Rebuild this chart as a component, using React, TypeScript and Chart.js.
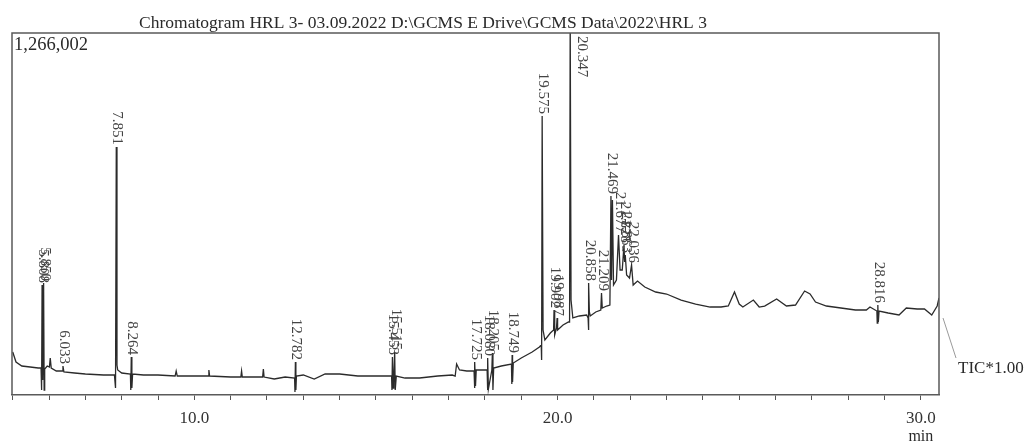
import React, { useEffect, useRef } from "react";
import { Chart, registerables } from "chart.js";

Chart.register(...registerables);

const titleText = "Chromatogram HRL 3- 03.09.2022 D:\\GCMS E Drive\\GCMS Data\\2022\\HRL 3";
const yMaxLabel = "1,266,002";
const traceName = "TIC*1.00";
const xUnit = "min";
const Y_MAX = 1266002;
const X_MIN = 4.98;
const X_MAX = 30.5;
const xTickLabels = [10, 20, 30];

const retentionTimes = [
  5.0, 5.09, 5.25, 5.48, 5.7, 5.78, 5.795, 5.808, 5.825, 5.85, 5.865, 5.88, 5.95,
  6.01, 6.033, 6.06, 6.2, 6.36, 6.383, 6.41, 6.7, 7.0, 7.5, 7.8, 7.83, 7.851, 7.87, 7.89,
  8.0, 8.24, 8.25, 8.264, 8.28, 8.3, 8.6, 9.0, 9.47, 9.5, 9.53, 10.0, 10.38, 10.4, 10.42,
  11.0, 11.28, 11.3, 11.32, 11.88, 11.9, 11.92, 12.2, 12.5, 12.76, 12.77, 12.782, 12.795,
  12.81, 13.0, 13.3, 13.6, 14.0, 14.5, 15.0, 15.43, 15.44, 15.453, 15.47, 15.49, 15.515,
  15.53, 15.56, 15.8, 16.2, 16.7, 17.1, 17.18, 17.22, 17.3, 17.5, 17.7, 17.71, 17.725,
  17.74, 17.76, 17.95, 18.06, 18.07, 18.08, 18.095, 18.19, 18.205, 18.22, 18.24, 18.45,
  18.73, 18.74, 18.749, 18.76, 18.78, 19.0, 19.3, 19.5, 19.55, 19.56, 19.575, 19.6, 19.65,
  19.8, 19.89, 19.902, 19.92, 19.97, 19.987, 20.0, 20.15, 20.3, 20.33, 20.347, 20.37,
  20.42, 20.6, 20.8, 20.84, 20.85, 20.858, 20.875, 20.9, 21.05, 21.19, 21.209, 21.23,
  21.35, 21.44, 21.469, 21.485, 21.51, 21.54, 21.62, 21.677, 21.72, 21.78, 21.828, 21.845,
  21.863, 21.9, 21.98, 22.036, 22.08, 22.2, 22.4, 22.7, 23.0, 23.4, 23.8, 24.2, 24.5,
  24.7, 24.87, 25.0, 25.1, 25.39, 25.55, 25.7, 26.03, 26.3, 26.55, 26.8, 26.95, 27.1,
  27.4, 27.8, 28.2, 28.5, 28.6, 28.79, 28.8, 28.816, 28.83, 28.85, 29.1, 29.4, 29.6,
  29.9, 30.1, 30.3, 30.45, 30.5,
];

const intensities = [
  150400, 115400, 101400, 97900, 94400, 94400, 17500, 384700, 52500, 391700, 17500, 90900, 101400,
  97900, 129400, 94400, 83900, 83900, 101400, 80400, 76900, 73400, 69900, 69900, 24500, 867300, 104900, 87400,
  76900, 73400, 17500, 132900, 24500, 73400, 69900, 69900, 66400, 83900, 66400, 66400, 66400, 87400, 66400,
  62900, 62900, 83900, 62900, 62900, 90900, 62900, 56000, 62900, 59400, 10500, 115400, 17500,
  66400, 69900, 56000, 73400, 73400, 66400, 66400, 66400, 17500, 132900, 24500, 59400, 150400,
  17500, 66400, 59400, 59400, 66400, 69900, 66400, 108400, 87400, 83900, 83900, 24500, 115400,
  31500, 87400, 87400, 87400, 17500, 129400, 21000, 87400, 146900, 17500, 94400, 101400,
  108400, 38500, 139900, 45500, 111900, 129400, 150400, 167900, 174900, 122400, 975700, 227300, 192300,
  216800, 227300, 297200, 209800, 234300, 269300, 227300, 244800, 255300, 255300, 1330000, 332200,
  269300, 276300, 279800, 269300, 227300, 391700, 290300, 276300, 290300, 297200, 356700, 304200,
  311200, 314700, 695900, 402200, 681900, 384700, 402200, 559500, 437100, 437100, 524600, 465100,
  489600, 419600, 409100, 454600, 384700, 398700, 377700, 360200, 353200, 332200, 318200, 307700, 307700,
  311200, 360200, 318200, 307700, 332200, 307700, 311200, 335700, 311200, 314700, 363700, 353200, 325200,
  311200, 304200, 297200, 297200, 307700, 293700, 251800, 314700, 255300, 293700, 286800, 279800, 304200,
  300700, 300700, 279800, 311200, 339200,
];

const peakTimes = [
  5.808, 5.85, 6.383, 7.851, 8.264, 12.782, 15.453, 15.515, 17.725, 18.08, 18.205, 18.749,
  19.575, 19.902, 19.987, 20.347, 20.858, 21.209, 21.469, 21.677, 21.828, 21.863, 22.036, 28.816,
];
const peakLabels = [
  "5.808", "5.850", "6.033", "7.851", "8.264", "12.782", "15.453", "15.515", "17.725", "18.080", "18.205", "18.749",
  "19.575", "19.902", "19.987", "20.347", "20.858", "21.209", "21.469", "21.677", "21.828", "21.863", "22.036", "28.816",
];

const SERIF = "'Liberation Serif', 'Times New Roman', serif";

export default function App() {
  const ref = useRef<HTMLCanvasElement>(null);

  useEffect(() => {
    document.body.style.margin = "0";
    const overlay = {
      id: "overlay",
      afterDraw(chart: any) {
        const ctx = chart.ctx as CanvasRenderingContext2D;
        const { left, right, top, bottom } = chart.chartArea;
        const xs = chart.scales.x;
        const ys = chart.scales.y;
        ctx.save();
        // frame
        ctx.strokeStyle = "#5a5a5a";
        ctx.lineWidth = 1.5;
        ctx.beginPath();
        ctx.moveTo(left, bottom);
        ctx.lineTo(left, top);
        ctx.lineTo(right, top);
        ctx.lineTo(right, bottom);
        ctx.stroke();

        // title
        ctx.fillStyle = "#2a2a2a";
        ctx.font = `17.5px ${SERIF}`;
        ctx.textAlign = "center";
        ctx.textBaseline = "alphabetic";
        ctx.fillText(titleText, 423, 28);

        // y max label
        ctx.font = `18.5px ${SERIF}`;
        ctx.textAlign = "left";
        ctx.fillText(yMaxLabel, left + 2, top + 17);

        // unit
        ctx.textAlign = "center";
        ctx.font = `16px ${SERIF}`;
        ctx.fillText(xUnit, xs.getPixelForValue(30), 441);

        // trace name with leader
        const lastY = ys.getPixelForValue(intensities[intensities.length - 1]);
        ctx.strokeStyle = "#9a9a9a";
        ctx.lineWidth = 1;
        ctx.beginPath();
        ctx.moveTo(right + 4, lastY + 20);
        ctx.lineTo(right + 17, lastY + 60);
        ctx.stroke();
        ctx.fillStyle = "#2a2a2a";
        ctx.textAlign = "left";
        ctx.font = `17px ${SERIF}`;
        ctx.fillText(traceName, right + 19, lastY + 75);

        // peak labels
        ctx.font = `15px ${SERIF}`;
        ctx.fillStyle = "#444";
        ctx.textBaseline = "middle";
        peakTimes.forEach((t, i) => {
          const idx = retentionTimes.indexOf(t);
          const v = intensities[idx];
          const px = xs.getPixelForValue(t);
          ctx.save();
          if (v > Y_MAX) {
            ctx.translate(px + 12, top + 3);
            ctx.rotate(Math.PI / 2);
            ctx.textAlign = "left";
          } else {
            ctx.translate(px + 1, ys.getPixelForValue(v) - 2);
            ctx.rotate(Math.PI / 2);
            ctx.textAlign = "right";
          }
          ctx.fillText(peakLabels[i], 0, 0);
          ctx.restore();
        });
        ctx.restore();
      },
    };

    const chart = new Chart(ref.current as HTMLCanvasElement, {
      type: "line",
      data: {
        datasets: [
          {
            data: retentionTimes.map((t, i) => ({ x: t, y: intensities[i] })),
            borderColor: "#2b2b2b",
            borderWidth: 1.3,
            pointRadius: 0,
            tension: 0,
          },
        ],
      },
      options: {
        animation: false,
        responsive: false,
        devicePixelRatio: 1,
        layout: { padding: { left: 12, right: 90, top: 33, bottom: 0 } },
        plugins: {
          legend: { display: false },
          tooltip: { enabled: false },
          title: { display: false },
        },
        scales: {
          x: {
            type: "linear",
            min: X_MIN,
            max: X_MAX,
            ticks: {
              stepSize: 1,
              includeBounds: false,
              autoSkip: false,
              maxRotation: 0,
              padding: 8,
              color: "#333",
              font: { family: SERIF, size: 17 },
              callback: (v: any) => (xTickLabels.includes(Number(v)) ? Number(v).toFixed(1) : ""),
            },
            grid: { drawOnChartArea: false, drawTicks: true, tickLength: 5, color: "#555", lineWidth: 1 },
            border: { display: true, color: "#5a5a5a", width: 1.5 },
            afterFit: (s: any) => {
              s.height = 49;
            },
          },
          y: { display: false, min: 0, max: Y_MAX },
        },
      } as any,
      plugins: [overlay],
    });
    return () => chart.destroy();
  }, []);

  return <canvas ref={ref} width={1029} height={444} style={{ display: "block" }} />;
}
